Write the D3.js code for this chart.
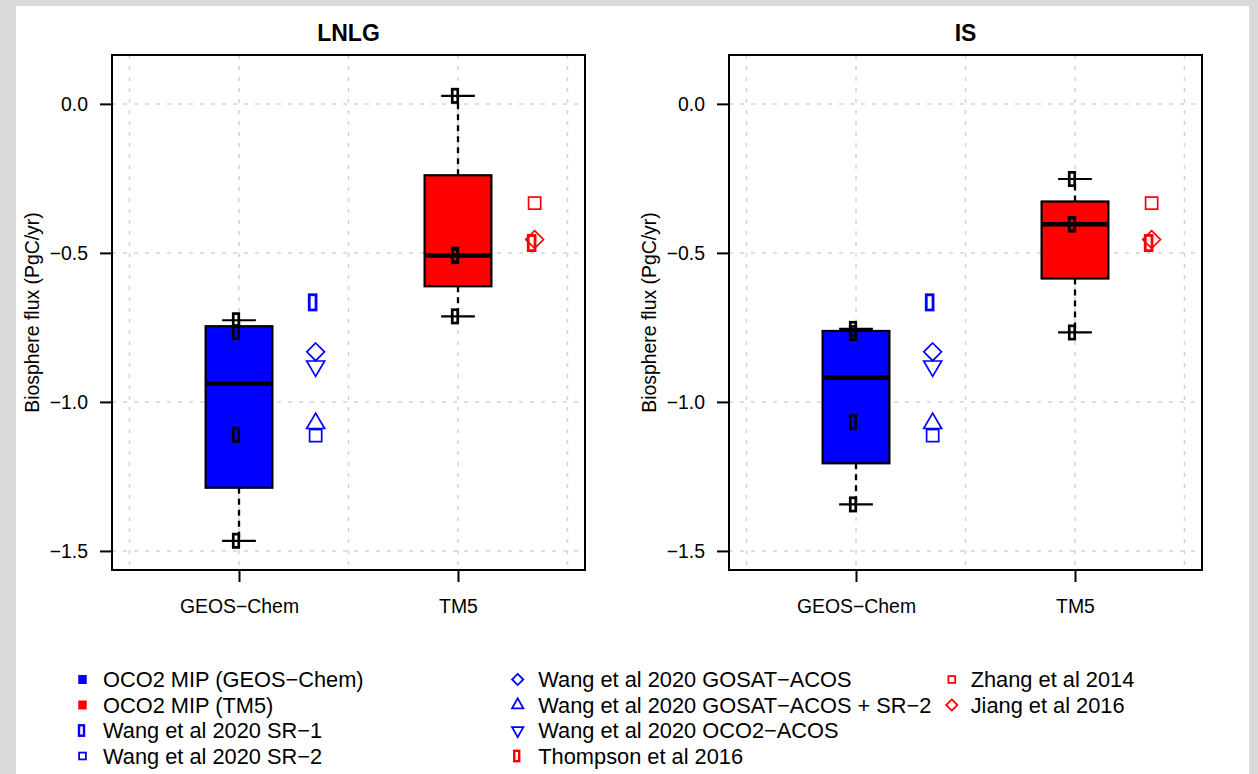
<!DOCTYPE html>
<html>
<head>
<meta charset="utf-8">
<script src="https://cdn.jsdelivr.net/npm/d3@7"></script>
<style>
  html, body { margin: 0; padding: 0; background: #d9d9d9; }
  svg { display: block; }
  text { font-family: "Liberation Sans", Arial, Helvetica, sans-serif; fill: #000; }
</style>
</head>
<body>
<svg id="chart" width="1258" height="774"></svg>
<script>
// ---------------- DATA ----------------
const panels = ["LNLG", "IS"];
const categories = ["GEOS−Chem", "TM5"];
const yTicks = [0, -0.5, -1.0, -1.5];

// OCO2 MIP ensemble members (black points) -> boxplots
const lnlgGeosChem = [-0.726, -0.766, -1.110, -1.466];
const lnlgTM5      = [0.027, -0.506, -0.511, -0.713];
const isGeosChem   = [-0.755, -0.769, -1.068, -1.344];
const isTM5        = [-0.252, -0.403, -0.405, -0.767];

// Wang et al 2020 (blue), placed next to GEOS-Chem
const wangNames = ["SR−1", "GOSAT−ACOS", "OCO2−ACOS", "GOSAT−ACOS + SR−2", "SR−2"];
const wangLNLG  = [-0.666, -0.832, -0.880, -1.072, -1.113];
const wangIS    = [-0.666, -0.832, -0.880, -1.072, -1.113];

// Other studies (red), placed next to TM5
const otherNames = ["Zhang et al 2014", "Jiang et al 2016", "Thompson et al 2016"];
const otherLNLG  = [-0.333, -0.455, -0.467];
const otherIS    = [-0.333, -0.455, -0.467];

const legendLabels = [
  ["OCO2 MIP (GEOS−Chem)", "OCO2 MIP (TM5)", "Wang et al 2020 SR−1", "Wang et al 2020 SR−2"],
  ["Wang et al 2020 GOSAT−ACOS", "Wang et al 2020 GOSAT−ACOS + SR−2", "Wang et al 2020 OCO2−ACOS", "Thompson et al 2016"],
  ["Zhang et al 2014", "Jiang et al 2016"]
];

// ---------------- STYLE ----------------
const BLUE = "#0000ff", RED = "#ff0000";
const wangShapes = ["rect", "diamond", "triDown", "triUp", "square"];
const otherShapes = ["square", "diamond", "rect"];
const legendShapes = [
  [["fill", BLUE], ["fill", RED], ["rect", BLUE], ["square", BLUE]],
  [["diamond", BLUE], ["triUp", BLUE], ["triDown", BLUE], ["rect", RED]],
  [["square", RED], ["diamond", RED]]
];

const svg = d3.select("#chart");
svg.append("rect").attr("x", 0).attr("y", 0).attr("width", 1258).attr("height", 774).attr("fill", "#d9d9d9");
svg.append("rect").attr("x", 16).attr("y", 6).attr("width", 1233).attr("height", 768).attr("fill", "#ffffff");

const plotDims = {
  rectBlack: { w: 8.2, h: 16, sw: 2.7, dx: -3 },
  rect: { w: 9.6, h: 18, sw: 2.8, dx: -3 },
  square: { a: 13.8, sw: 1.7 },
  diamond: { r: 9.7, sw: 1.7 },
  tri: { w: 20.5, h: 17.6, sw: 1.7 }
};
const legDims = {
  rect: { w: 7.4, h: 12.8, sw: 2.4, dx: -1 },
  square: { a: 8.6, sw: 1.8 },
  diamond: { r: 6.5, sw: 1.8 },
  tri: { w: 14, h: 12.2, sw: 1.8 },
  fill: { w: 8.5, h: 9 }
};

function marker(g, type, cx, cy, color, dims, black) {
  if (type === "rect") {
    const d = black ? dims.rectBlack : dims.rect;
    g.append("rect")
      .attr("x", cx + d.dx - (d.w - d.sw) / 2).attr("y", cy - (d.h - d.sw) / 2)
      .attr("width", d.w - d.sw).attr("height", d.h - d.sw)
      .attr("fill", "none").attr("stroke", color).attr("stroke-width", d.sw);
  } else if (type === "square") {
    const d = dims.square, s = d.a - d.sw;
    g.append("rect").attr("x", cx - s / 2).attr("y", cy - s / 2)
      .attr("width", s).attr("height", s)
      .attr("fill", "none").attr("stroke", color).attr("stroke-width", d.sw);
  } else if (type === "diamond") {
    const d = dims.diamond, r = d.r - d.sw / 2;
    g.append("path").attr("d", `M${cx},${cy - r}L${cx + r},${cy}L${cx},${cy + r}L${cx - r},${cy}Z`)
      .attr("fill", "none").attr("stroke", color).attr("stroke-width", d.sw);
  } else if (type === "triUp" || type === "triDown") {
    const d = dims.tri, w = d.w - d.sw * 1.5, h = d.h - d.sw * 1.3;
    const s = type === "triUp" ? 1 : -1;
    g.append("path")
      .attr("d", `M${cx},${cy - s * 2 * h / 3}L${cx + w / 2},${cy + s * h / 3}L${cx - w / 2},${cy + s * h / 3}Z`)
      .attr("fill", "none").attr("stroke", color).attr("stroke-width", d.sw).attr("stroke-linejoin", "miter");
  } else if (type === "fill") {
    const d = dims.fill;
    g.append("rect").attr("x", cx - d.w / 2).attr("y", cy - d.h / 2)
      .attr("width", d.w).attr("height", d.h).attr("fill", color);
  }
}

// Tukey five-number summary (as R's fivenum / boxplot)
function fivenum(arr) {
  const x = arr.slice().sort((a, b) => a - b);
  const n = x.length;
  const n4 = Math.floor((n + 3) / 2) / 2;
  const d = [1, n4, (n + 1) / 2, n + 1 - n4, n];
  return d.map(v => 0.5 * (x[Math.floor(v) - 1] + x[Math.ceil(v) - 1]));
}

const panelData = [
  { title: panels[0], models: [lnlgGeosChem, lnlgTM5], wang: wangLNLG, other: otherLNLG, x0: 112, x1: 585 },
  { title: panels[1], models: [isGeosChem, isTM5], wang: wangIS, other: otherIS, x0: 729, x1: 1202 }
];
const plotTop = 55, plotBottom = 570;
const boxColors = [BLUE, RED];
const fmt = d3.format(".1f");

panelData.forEach(p => {
  const g = svg.append("g");
  const x = d3.scaleLinear().domain([0.42, 2.58]).range([p.x0, p.x1]);
  const y = d3.scaleLinear().domain([-1.564, 0.164]).range([plotBottom, plotTop]);

  // grid
  const grid = g.append("g").attr("stroke", "#d3d3d3").attr("stroke-width", 1.5).attr("stroke-dasharray", "4,7");
  [0.5, 1, 1.5, 2, 2.5].forEach(v => grid.append("line").attr("x1", x(v)).attr("x2", x(v)).attr("y1", plotTop).attr("y2", plotBottom));
  yTicks.forEach(v => grid.append("line").attr("x1", p.x0).attr("x2", p.x1).attr("y1", y(v)).attr("y2", y(v)));

  // boxplots
  p.models.forEach((vals, i) => {
    const pos = i + 1;
    const [lo, q1, med, q3, hi] = fivenum(vals);
    const hw = 0.1525, sw = 0.077;
    // whiskers
    g.append("line").attr("x1", x(pos)).attr("x2", x(pos)).attr("y1", y(q3)).attr("y2", y(hi))
      .attr("stroke", "#000").attr("stroke-width", 2.3).attr("stroke-dasharray", "6,5");
    g.append("line").attr("x1", x(pos)).attr("x2", x(pos)).attr("y1", y(q1)).attr("y2", y(lo))
      .attr("stroke", "#000").attr("stroke-width", 2.3).attr("stroke-dasharray", "6,5");
    [lo, hi].forEach(v => g.append("line").attr("x1", x(pos - sw)).attr("x2", x(pos + sw))
      .attr("y1", y(v)).attr("y2", y(v)).attr("stroke", "#000").attr("stroke-width", 2.2));
    // box
    g.append("rect").attr("x", x(pos - hw)).attr("y", y(q3))
      .attr("width", x(pos + hw) - x(pos - hw)).attr("height", y(q1) - y(q3))
      .attr("fill", boxColors[i]).attr("stroke", "#000").attr("stroke-width", 2.2);
    g.append("line").attr("x1", x(pos - hw)).attr("x2", x(pos + hw)).attr("y1", y(med)).attr("y2", y(med))
      .attr("stroke", "#000").attr("stroke-width", 4.6);
    // members
    vals.forEach(v => marker(g, "rect", x(pos), y(v), "#000", plotDims, true));
  });

  // Wang et al 2020 (blue) next to GEOS-Chem
  p.wang.forEach((v, k) => marker(g, wangShapes[k], x(1.35), y(v), BLUE, plotDims, false));
  // other studies (red) next to TM5
  p.other.forEach((v, k) => marker(g, otherShapes[k], x(2.35), y(v), RED, plotDims, false));

  // axes
  const yAxis = d3.axisLeft(y).tickValues(yTicks).tickFormat(fmt).tickSize(12).tickPadding(12);
  const ya = g.append("g").attr("transform", `translate(${p.x0},0)`).call(yAxis);
  const xAxis = d3.axisBottom(x).tickValues([1, 2]).tickFormat(d => categories[d - 1]).tickSize(12).tickPadding(17.5);
  const xa = g.append("g").attr("transform", `translate(0,${plotBottom})`).call(xAxis);
  [ya, xa].forEach(a => {
    a.select(".domain").remove();
    a.selectAll(".tick line").attr("stroke", "#000").attr("stroke-width", 2);
    a.selectAll(".tick text").attr("font-size", 19.4).attr("font-family", '"Liberation Sans", Arial, sans-serif').attr("fill", "#000");
  });

  // frame
  g.append("rect").attr("x", p.x0).attr("y", plotTop).attr("width", p.x1 - p.x0).attr("height", plotBottom - plotTop)
    .attr("fill", "none").attr("stroke", "#000").attr("stroke-width", 2);

  // title
  g.append("text").attr("x", (p.x0 + p.x1) / 2).attr("y", 40.7).attr("text-anchor", "middle")
    .attr("font-size", 23).attr("font-weight", "bold").text(p.title);

  // y label
  const lx = p.x0 - 73, ly = (plotTop + plotBottom) / 2;
  g.append("text").attr("transform", `translate(${lx},${ly}) rotate(-90)`).attr("text-anchor", "middle")
    .attr("font-size", 19.4).text("Biosphere flux (PgC/yr)");
});

// ---------------- LEGEND ----------------
const legCols = [{ mx: 82.5, tx: 103 }, { mx: 517.7, tx: 538.3 }, { mx: 951.8, tx: 970.7 }];
const rowY = [679.5, 705, 730.5, 756];
const leg = svg.append("g");
legendLabels.forEach((col, c) => {
  col.forEach((lab, r) => {
    const [shape, color] = legendShapes[c][r];
    marker(leg, shape, legCols[c].mx, rowY[r], color, legDims, false);
    leg.append("text").attr("x", legCols[c].tx).attr("y", rowY[r] + 7.8)
      .attr("font-size", 21.8).text(lab);
  });
});
</script>
</body>
</html>
